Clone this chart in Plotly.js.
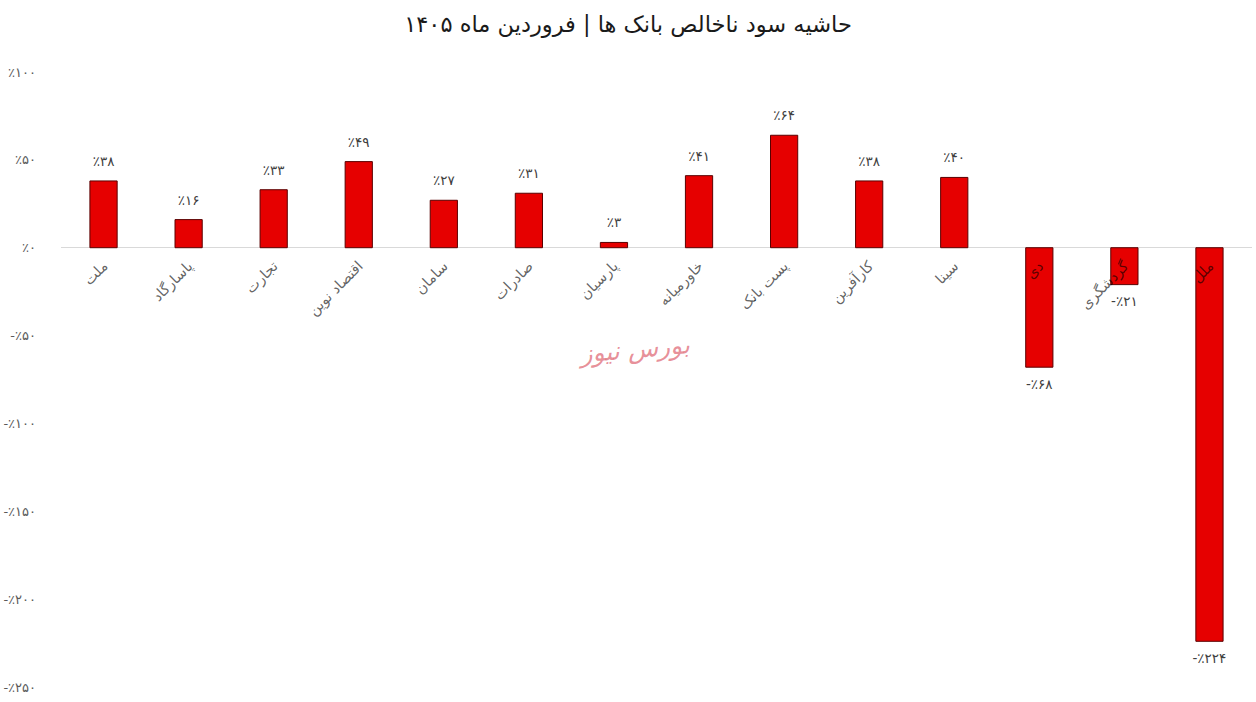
<!DOCTYPE html>
<html>
<head>
<meta charset="utf-8">
<script src="https://cdn.plot.ly/plotly-3.0.1.min.js"></script>
<style>html,body{margin:0;padding:0;background:#fff;}#chart{width:1256px;height:702px;}</style>
</head>
<body>
<div id="chart"></div>
<script>
// Data
const banks = ["ملت","پاسارگاد","تجارت","اقتصاد نوین","سامان","صادرات","پارسیان","خاورمیانه","پست بانک","کارآفرین","سینا","دی","گردشگری","ملل"];
const margins = [38, 16, 33, 49, 27, 31, 3, 41, 64, 38, 40, -68, -21, -224];
const yTicks = [100, 50, 0, -50, -100, -150, -200, -250];
const chartTitle = "حاشیه سود ناخالص بانک ها | فروردین ماه ۱۴۰۵";
const watermark = "بورس نیوز";

const faDigits = "۰۱۲۳۴۵۶۷۸۹";
function toFa(n){ return String(Math.abs(n)).replace(/[0-9]/g, d => faDigits[+d]); }
function pct(n){ return (n < 0 ? "-" : "") + "٪" + toFa(n); }

const yMin = -250, yMax = 100;
const zeroPos = (0 - yMin) / (yMax - yMin);
const FONT = "DejaVu Sans, Noto Sans, sans-serif";

const bars = {
  type: "bar",
  x: banks,
  y: margins,
  marker: {color: "#e60000", line: {color: "#5a0000", width: 1}},
  hoverinfo: "x+y"
};

const labels = {
  type: "scatter",
  mode: "markers+text",
  x: banks,
  y: margins,
  text: margins.map(pct),
  textposition: margins.map(v => v >= 0 ? "top center" : "bottom center"),
  marker: {size: 17, opacity: 0, color: "#ffffff"},
  cliponaxis: false,
  textfont: {family: FONT, size: 13.5, color: "#404040"},
  hoverinfo: "skip"
};

const layout = {
  width: 1256, height: 702,
  margin: {l: 61, r: 4, t: 72, b: 15},
  paper_bgcolor: "#ffffff", plot_bgcolor: "#ffffff",
  showlegend: false,
  bargap: 0.68,
  title: {text: chartTitle, x: 0.5, xref: "container", y: 1 - 24/702, yref: "container", yanchor: "middle",
          font: {family: FONT, size: 22.5, color: "#1a1a1a"}},
  xaxis: {
    type: "category",
    range: [-0.5, banks.length - 0.5],
    anchor: "free", position: zeroPos,
    showline: false, showgrid: false, zeroline: false,
    ticks: "", tickangle: -45,
    tickfont: {family: FONT, size: 14.5, color: "rgba(0,0,0,0.62)"},
    ticklabelstandoff: 6,
    automargin: false
  },
  yaxis: {
    range: [yMin, yMax],
    tickvals: yTicks,
    ticktext: yTicks.map(pct),
    showgrid: false,
    zeroline: true, zerolinecolor: "#d9d9d9", zerolinewidth: 1,
    showline: false, ticks: "",
    ticklabelstandoff: 24,
    tickfont: {family: FONT, size: 13, color: "#595959"},
    automargin: false
  },
  annotations: [{
    text: watermark, xref: "paper", yref: "paper",
    x: (633 - 61) / 1191, y: 1 - (350 - 72) / 615,
    showarrow: false, textangle: -5,
    font: {family: FONT, size: 25, color: "rgba(215,70,85,0.6)", style: "italic"}
  }]
};

Plotly.newPlot("chart", [bars, labels], layout, {displayModeBar: false, staticPlot: true});
</script>
</body>
</html>
